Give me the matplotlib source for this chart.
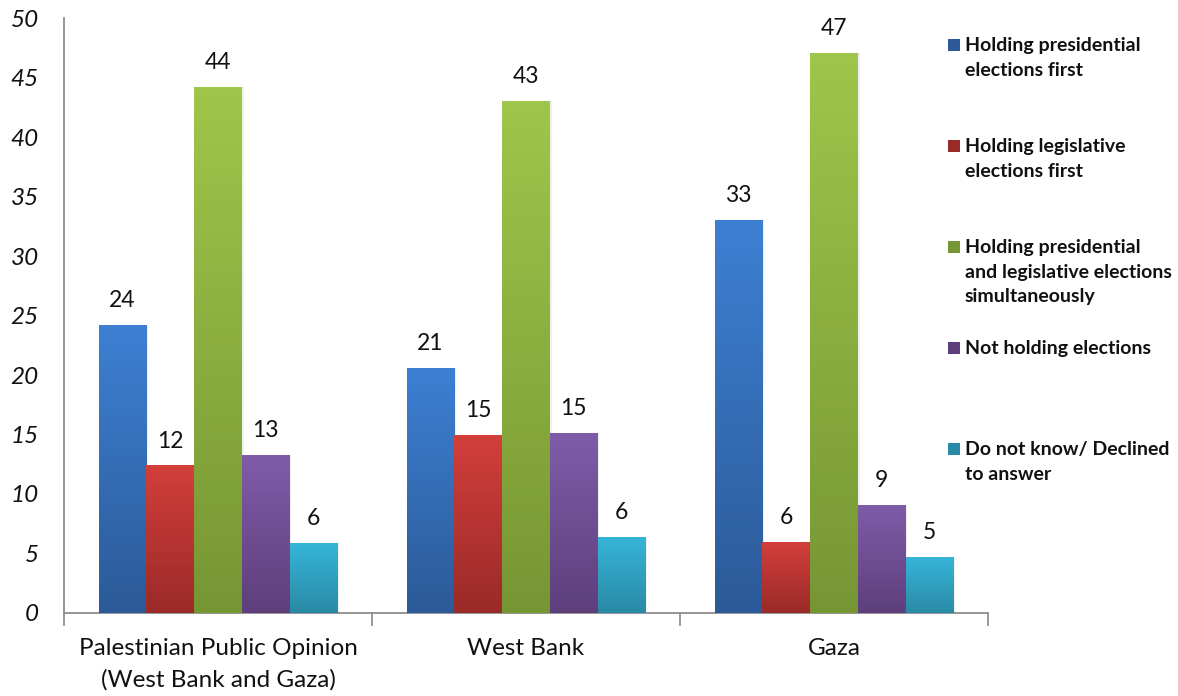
import numpy as np
import matplotlib.pyplot as plt
from matplotlib.colors import LinearSegmentedColormap
from matplotlib.patches import Rectangle

plt.rcParams['font.family'] = ['Lato', 'DejaVu Sans']

categories = ["Palestinian Public Opinion\n(West Bank and Gaza)", "West Bank", "Gaza"]
series_names = ["Holding presidential\nelections first",
                "Holding legislative\nelections first",
                "Holding presidential\nand legislative elections\nsimultaneously",
                "Not holding elections",
                "Do not know/ Declined\nto answer"]
presidential_first = [24.2, 20.6, 33.0]
legislative_first = [12.4, 15.0, 6.0]
simultaneous = [44.2, 43.0, 47.1]
not_holding = [13.3, 15.1, 9.1]
dont_know = [5.9, 6.4, 4.7]
series = [presidential_first, legislative_first, simultaneous, not_holding, dont_know]

# (top colour, bottom colour) for the gradient fill
colors = [("#3d80d3", "#2c5a98"),
          ("#d33f3b", "#9a2a28"),
          ("#9fc64a", "#769634"),
          ("#7f5ca9", "#5e3f7c"),
          ("#36b5d8", "#2a8aa6")]

fig = plt.figure(figsize=(11.78, 6.96), dpi=100)
ax = fig.add_axes([0.0543, 0.1193, 0.7844, 0.8547])

x = np.arange(len(categories))
width = 0.155
n = len(series)

for i, vals in enumerate(series):
    offs = (i - (n - 1) / 2) * width
    bars = ax.bar(x + offs, vals, width, color=colors[i][0], edgecolor='none',
                  label=series_names[i], zorder=2)
    cmap = LinearSegmentedColormap.from_list("g%d" % i, [colors[i][1], colors[i][0]])
    grad = np.linspace(0, 1, 256).reshape(-1, 1)
    for b, v in zip(bars, vals):
        bx, bw = b.get_x(), b.get_width()
        # faint shadow on the right
        ax.add_patch(Rectangle((bx + bw, 0), 0.006, v, color='#000000', alpha=0.06,
                               lw=0, zorder=1))
        im = ax.imshow(grad, cmap=cmap, origin='lower', aspect='auto',
                       extent=(bx, bx + bw, 0, v), zorder=3)
        im.set_clip_path(b)
        ax.annotate("{:.0f}".format(v), (bx + bw / 2, v), xytext=(0, 10),
                    textcoords='offset points', ha='center', va='bottom',
                    fontsize=16.5, color='#111111', zorder=4)

ax.set_xlim(-0.5, len(categories) - 0.5)
ax.set_ylim(0, 50)
ax.set_yticks(np.arange(0, 51, 5))
ax.set_yticklabels([str(t) for t in range(0, 51, 5)], fontsize=17.5, style='italic',
                   color='#111111')
ax.tick_params(axis='y', length=0, pad=18)

ax.set_xticks(x)
ax.set_xticklabels(categories, fontsize=17.5, color='#111111', linespacing=1.6)
ax.tick_params(axis='x', length=0, pad=18)
ax.set_xticks(np.arange(-0.5, len(categories)), minor=True)
ax.tick_params(axis='x', which='minor', length=9, color='#888888', width=1.2)

for s in ['top', 'right']:
    ax.spines[s].set_visible(False)
for s in ['left', 'bottom']:
    ax.spines[s].set_color('#8c8c8c')
    ax.spines[s].set_linewidth(1.3)

# legend entries stacked on the right, evenly spaced like the original
leg_top = 1 - 45 / 696
leg_step = 101 / 696
for i, name in enumerate(series_names):
    yy = leg_top - i * leg_step
    fig.patches.append(Rectangle((948 / 1178, yy - 6 / 696), 12 / 1178, 12 / 696,
                                 transform=fig.transFigure, color=colors[i][1],
                                 lw=0))
    fig.text(965 / 1178, yy + 8 / 696, name, fontsize=14, fontweight='bold',
             va='top', ha='left', color='#111111', linespacing=1.55)

fig.savefig("out.png", dpi=100)
